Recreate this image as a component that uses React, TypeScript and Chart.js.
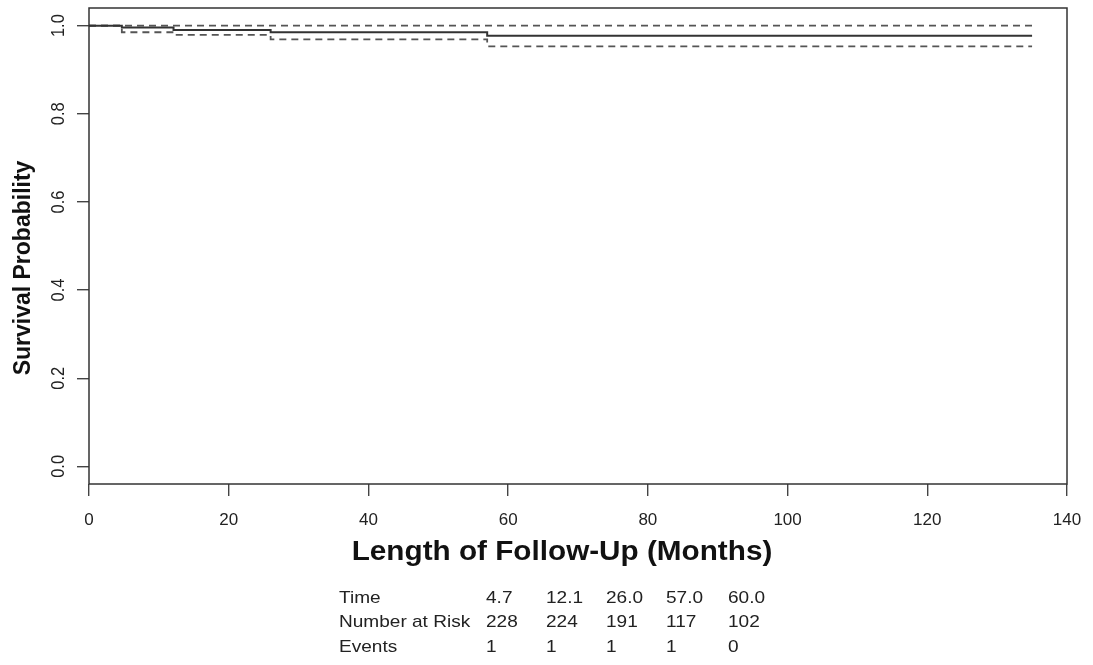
import React, { useEffect, useRef } from 'react';
import { Chart, registerables } from 'chart.js';

Chart.register(...registerables);

// Kaplan-Meier estimate with 95% confidence band
const times = [0, 4.7, 12.1, 26.0, 57.0, 135];
const survival = [1, 0.996, 0.99, 0.985, 0.977, 0.977];
const lowerCI = [1, 0.985, 0.979, 0.969, 0.953, 0.953];
const upperCI = [1, 1, 1, 1, 1, 1];

const xTicks = [0, 20, 40, 60, 80, 100, 120, 140];
const yTicks = [0, 0.2, 0.4, 0.6, 0.8, 1.0];

const xTitle = 'Length of Follow-Up (Months)';
const yTitle = 'Survival Probability';

// risk table
const rowLabels = ['Time', 'Number at Risk', 'Events'];
const riskTimes = ['4.7', '12.1', '26.0', '57.0', '60.0'];
const riskNumbers = ['228', '224', '191', '117', '102'];
const riskEvents = ['1', '1', '1', '1', '0'];

const FONT = '"Liberation Sans", Arial, Helvetica, sans-serif';

const extrasPlugin = {
  id: 'rStyleExtras',
  afterDraw(chart: any) {
    const { ctx, chartArea } = chart;
    const ys = chart.scales.y;
    ctx.save();
    // box
    ctx.strokeStyle = '#333';
    ctx.lineWidth = 1.5;
    ctx.strokeRect(chartArea.left, chartArea.top, chartArea.right - chartArea.left, chartArea.bottom - chartArea.top);

    // y tick labels (rotated, R style)
    ctx.fillStyle = '#222';
    ctx.font = `16.5px ${FONT}`;
    ctx.textAlign = 'center';
    ctx.textBaseline = 'alphabetic';
    yTicks.forEach((v) => {
      const py = ys.getPixelForValue(v);
      ctx.save();
      ctx.translate(64, py);
      ctx.rotate(-Math.PI / 2);
      ctx.scale(1, 1.1);
      ctx.fillText(v.toFixed(1), 0, 0);
      ctx.restore();
    });

    // y title
    ctx.save();
    ctx.fillStyle = '#111';
    ctx.font = `bold 23px ${FONT}`;
    ctx.translate(30, 268);
    ctx.rotate(-Math.PI / 2);
    ctx.textAlign = 'center';
    ctx.fillText(yTitle, 0, 0);
    ctx.restore();

    // x title
    ctx.save();
    ctx.fillStyle = '#111';
    ctx.font = `bold 27px ${FONT}`;
    ctx.translate(562, 560);
    ctx.scale(1.1, 1);
    ctx.textAlign = 'center';
    ctx.fillText(xTitle, 0, 0);
    ctx.restore();

    // risk table
    const rows = [riskTimes, riskNumbers, riskEvents];
    const baselines = [603, 627, 652];
    const colX = [486, 546, 606, 666, 728];
    ctx.fillStyle = '#222';
    ctx.font = `17px ${FONT}`;
    ctx.textAlign = 'left';
    rows.forEach((row, r) => {
      ctx.save();
      ctx.translate(339, baselines[r]);
      ctx.scale(1.12, 1);
      ctx.fillText(rowLabels[r], 0, 0);
      ctx.restore();
      row.forEach((txt, c) => {
        ctx.save();
        ctx.translate(colX[c], baselines[r]);
        ctx.scale(1.12, 1);
        ctx.fillText(txt, 0, 0);
        ctx.restore();
      });
    });
    ctx.restore();
  },
};

export default function App() {
  const ref = useRef<HTMLCanvasElement | null>(null);
  useEffect(() => {
    if (!ref.current) return;
    const mk = (ys: number[]) => times.map((t, i) => ({ x: t, y: ys[i] }));
    const chart = new Chart(ref.current, {
      type: 'line',
      data: {
        datasets: [
          {
            label: 'Survival',
            data: mk(survival),
            borderColor: '#333',
            borderWidth: 2,
            stepped: true,
            pointRadius: 0,
            fill: false,
          },
          {
            label: 'Lower 95% CI',
            data: mk(lowerCI),
            borderColor: '#555',
            borderWidth: 1.8,
            borderDash: [7, 5],
            stepped: true,
            pointRadius: 0,
            fill: false,
          },
          {
            label: 'Upper 95% CI',
            data: mk(upperCI),
            borderColor: '#555',
            borderWidth: 1.8,
            borderDash: [7, 5],
            stepped: true,
            pointRadius: 0,
            fill: false,
          },
        ],
      },
      options: {
        animation: false,
        responsive: false,
        layout: { padding: { top: 8, right: 26, left: 0, bottom: 0 } },
        plugins: { legend: { display: false }, tooltip: { enabled: false } },
        scales: {
          x: {
            type: 'linear',
            min: 0,
            max: 140,
            afterBuildTicks: (s: any) => {
              s.ticks = xTicks.map((v) => ({ value: v }));
            },
            afterFit: (s: any) => {
              s.height = 181;
              s.paddingLeft = 0;
              s.paddingRight = 0;
            },
            grid: { drawOnChartArea: false, drawTicks: true, tickLength: 12, color: '#444', lineWidth: 1.4 },
            border: { display: false },
            ticks: {
              font: { family: FONT, size: 17 },
              color: '#222',
              padding: 14,
              maxRotation: 0,
              autoSkip: false,
            },
          },
          y: {
            type: 'linear',
            min: -0.04,
            max: 1.04,
            afterBuildTicks: (s: any) => {
              s.ticks = yTicks.map((v) => ({ value: v }));
            },
            afterFit: (s: any) => {
              s.width = 89;
              s.paddingTop = 0;
              s.paddingBottom = 0;
            },
            grid: { drawOnChartArea: false, drawTicks: true, tickLength: 12, color: '#444', lineWidth: 1.4 },
            border: { display: false },
            ticks: { display: false },
          },
        },
      },
      plugins: [extrasPlugin],
    });
    return () => chart.destroy();
  }, []);
  return (
    <div style={{ position: 'fixed', left: 0, top: 0, width: 1093, height: 665, background: '#fff' }}>
      <canvas ref={ref} width={1093} height={665} style={{ display: 'block' }} />
    </div>
  );
}
